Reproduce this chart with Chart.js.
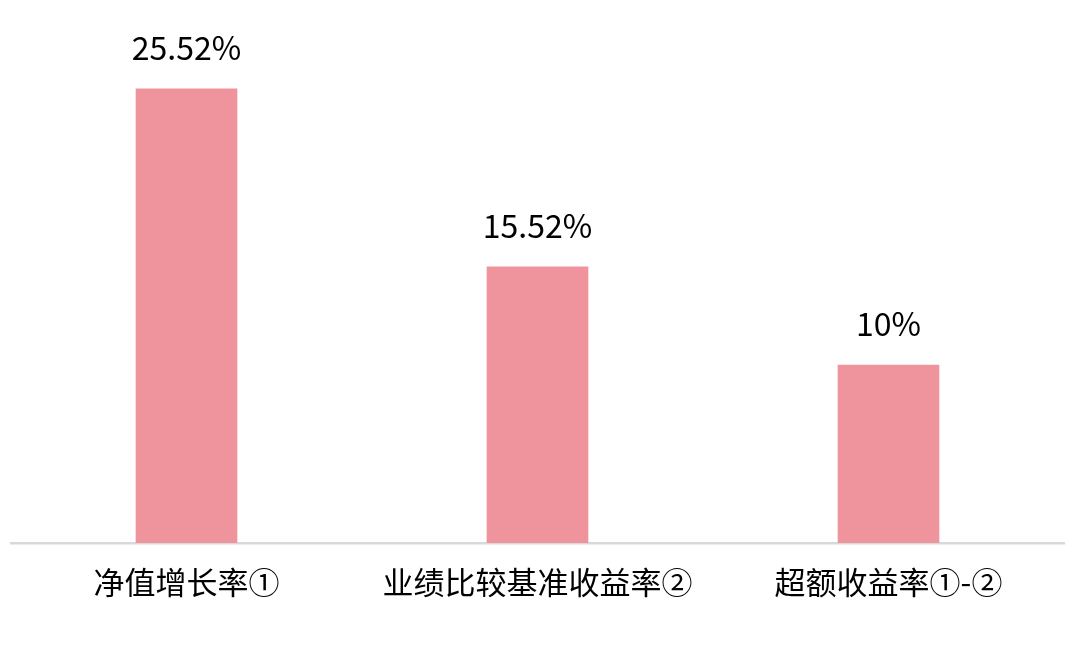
<!DOCTYPE html>
<html>
<head>
<meta charset="utf-8">
<script src="https://cdn.jsdelivr.net/npm/chart.js@4"></script>
<style>
  html, body { margin: 0; padding: 0; background: #ffffff; }
  #wrap { width: 1080px; height: 652px; }
</style>
</head>
<body>
<div id="wrap"><canvas id="barChart" width="1080" height="652"></canvas></div>
<script>
// 分类和数值
const categories = ['净值增长率①', '业绩比较基准收益率②', '超额收益率①-②'];
const values = [25.52, 15.52, 10];
const valueLabels = ['25.52%', '15.52%', '10%'];

// 柱顶数值标签
const valueLabelPlugin = {
  id: 'valueLabels',
  afterDatasetsDraw(chart) {
    const ctx = chart.ctx;
    const meta = chart.getDatasetMeta(0);
    ctx.save();
    ctx.font = '32px "Noto Sans CJK SC", "Noto Sans", sans-serif';
    ctx.fillStyle = '#000000';
    ctx.textAlign = 'center';
    ctx.textBaseline = 'alphabetic';
    meta.data.forEach((bar, i) => {
      ctx.fillText(valueLabels[i], bar.x, bar.y - 29);
    });
    ctx.restore();
  }
};

new Chart(document.getElementById('barChart'), {
  type: 'bar',
  data: {
    labels: categories,
    datasets: [{
      data: values,
      backgroundColor: '#ef939c',
      barThickness: 101
    }]
  },
  options: {
    responsive: false,
    animation: false,
    layout: { padding: { left: 11, right: 16, top: 9, bottom: 0 } },
    plugins: {
      legend: { display: false },
      tooltip: { enabled: false }
    },
    scales: {
      y: {
        display: false,
        min: 0,
        max: 30
      },
      x: {
        grid: { display: false, drawTicks: false },
        border: { display: true, color: '#d9d9d9', width: 2.5 },
        ticks: {
          color: '#000000',
          padding: 21,
          font: { size: 31, family: '"Noto Sans CJK SC", "Noto Sans", sans-serif' }
        },
        afterFit(scale) { scale.height = 109; }
      }
    }
  },
  plugins: [valueLabelPlugin]
});
</script>
</body>
</html>
